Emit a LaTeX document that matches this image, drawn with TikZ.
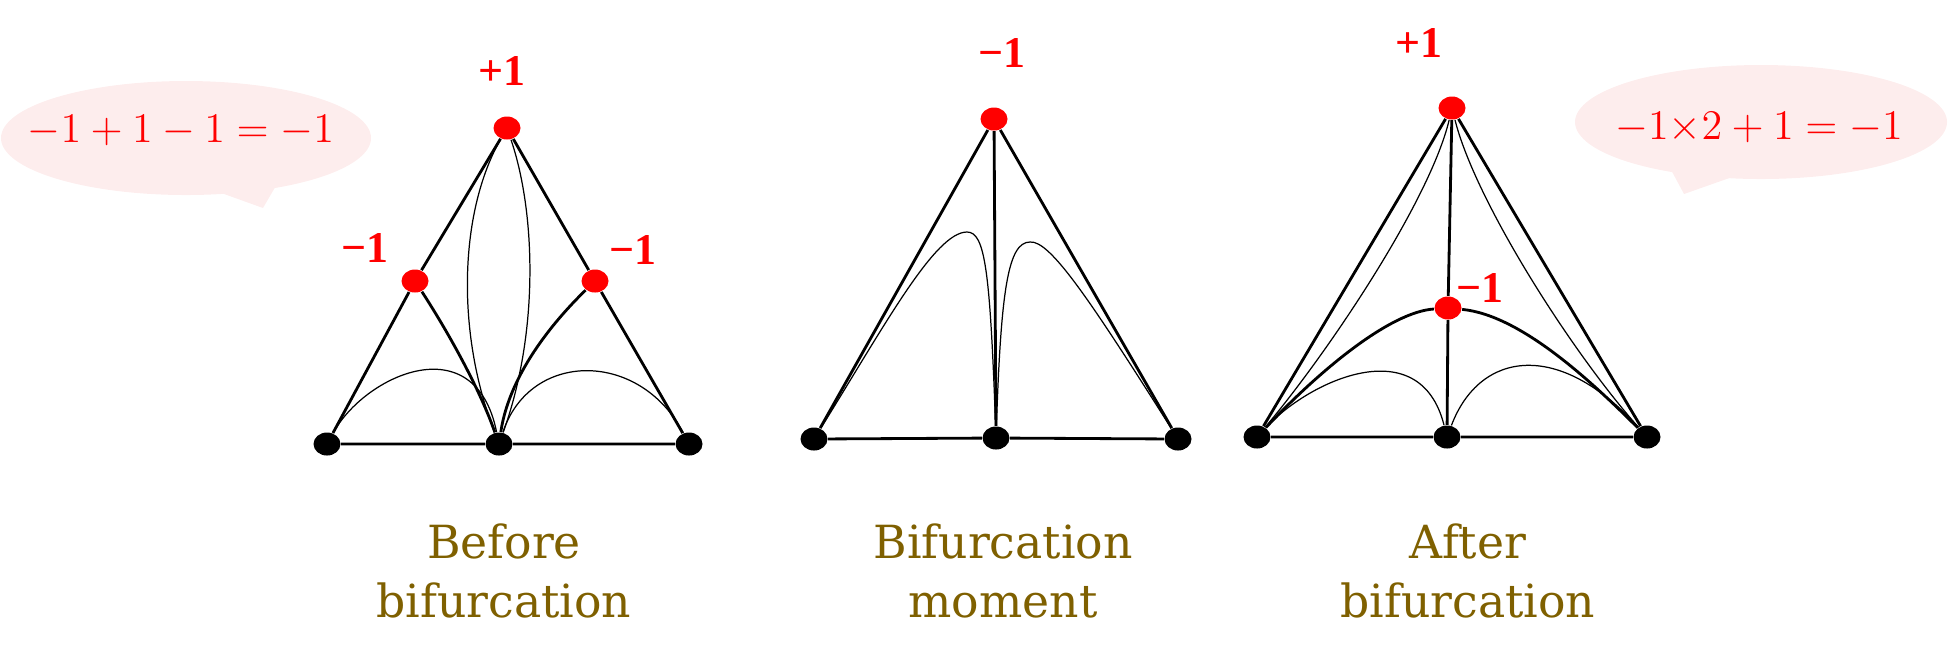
\documentclass[tikz,border=0pt]{standalone}
\usepackage{fontspec}
\usetikzlibrary{shapes.geometric}
\newfontfamily\capfont{DejaVu Serif}
\newfontfamily\numfont{Liberation Serif}
\definecolor{bubblepink}{RGB}{253,237,237}
\definecolor{capbrown}{RGB}{127,96,0}
\tikzset{redv/.style={ellipse, fill=red, minimum width=2.7mm, minimum height=2.3mm, inner sep=0pt},
  blkv/.style={redv, fill=black},
  side/.style={line width=0.8pt},
  hair/.style={line width=0.35pt},
  sgn/.style={text=red, inner sep=0pt, font=\numfont\bfseries\fontsize{12.5}{14}\selectfont},
  eqn/.style={text=red, inner sep=0pt, font=\fontsize{12}{15}\selectfont},
  ptitle/.style={text=capbrown, align=center, inner sep=0pt, font=\capfont\fontsize{13}{17}\selectfont}}

\begin{document}
\begin{tikzpicture}[x=0.1mm, y=-0.1mm]
  \useasboundingbox (0,0) rectangle (1948,662);
  % speech bubbles
  \fill[bubblepink] (186,138) ellipse [x radius=185, y radius=57];
  \fill[bubblepink] (213,190) -- (263,208) -- (277,184) -- cycle;
  \fill[bubblepink] (1761,122) ellipse [x radius=186, y radius=57];
  \fill[bubblepink] (1670,168) -- (1684,194) -- (1735,176) -- cycle;
  \node[eqn] (eq1) at (181,131) {$-1+1-1=-1$};
  \node[eqn] (eq2) at (1759,128) {$-1{\times}2+1=-1$};

  % before
  \node[redv] (t1) at (507,128) {};
  \node[redv] (a1) at (415,281) {};
  \node[redv] (b1) at (595,281) {};
  \node[blkv] (l1) at (327,444) {};
  \node[blkv] (m1) at (499,444) {};
  \node[blkv] (r1) at (689,444) {};
  \draw[side] (l1) -- (a1) -- (t1) -- (b1) -- (r1) -- (m1) -- (l1);
  \draw[side] (a1) .. controls (450,335) and (480,390) .. (m1);
  \draw[side] (b1) .. controls (560,315) and (510,370) .. (m1);
  \draw[hair] (t1) .. controls (460,210) and (455,330) .. (m1);
  \draw[hair] (t1) .. controls (535,210) and (540,330) .. (m1);
  \draw[hair] (l1) .. controls (365,375) and (475,325) .. (m1);
  \draw[hair] (m1) .. controls (530,350) and (640,350) .. (r1);
  \node[sgn] (s1) at (502,71) {+1};
  \node[sgn] (s2) at (365,248) {−1};
  \node[sgn] (s3) at (633,250) {−1};

  % moment
  \node[redv] (t2) at (994,119) {};
  \node[blkv] (l2) at (814,439) {};
  \node[blkv] (m2) at (996,438) {};
  \node[blkv] (r2) at (1178,439) {};
  \draw[side] (l2) -- (t2) -- (r2) -- (m2) -- (l2);
  \draw[side] (t2) -- (m2);
  \draw[hair] (l2) .. controls (885,325) and (935,232) .. (967,232) .. controls (985,232) and (990,270) .. (m2);
  \draw[hair] (m2) .. controls (1001,290) and (1008,242) .. (1030,242) .. controls (1050,240) and (1090,300) .. (r2);
  \node[sgn] (s4) at (1002,53) {−1};

  % after
  \node[redv] (t3) at (1452,108) {};
  \node[redv] (c3) at (1448,308) {};
  \node[blkv] (l3) at (1257,437) {};
  \node[blkv] (m3) at (1447,437) {};
  \node[blkv] (r3) at (1647,437) {};
  \draw[side] (l3) -- (t3) -- (r3) -- (m3) -- (l3);
  \draw[side] (t3) -- (c3) -- (m3);
  \draw[side] (l3) .. controls (1320,370) and (1390,312) .. (c3) .. controls (1520,315) and (1590,380) .. (r3);
  \draw[hair] (t3) .. controls (1430,200) and (1330,350) .. (l3);
  \draw[hair] (t3) .. controls (1475,200) and (1570,350) .. (r3);
  \draw[hair] (l3) .. controls (1310,380) and (1420,330) .. (m3);
  \draw[hair] (m3) .. controls (1480,350) and (1560,340) .. (r3);
  \node[sgn] (s5) at (1419,43) {+1};
  \node[sgn] (s6) at (1480,288) {−1};

  \node[ptitle] (cap1) at (504,571) {Before\\bifurcation};
  \node[ptitle] (cap2) at (1003,571) {Bifurcation\\moment};
  \node[ptitle] (cap3) at (1468,571) {After\\bifurcation};
\end{tikzpicture}
\end{document}
